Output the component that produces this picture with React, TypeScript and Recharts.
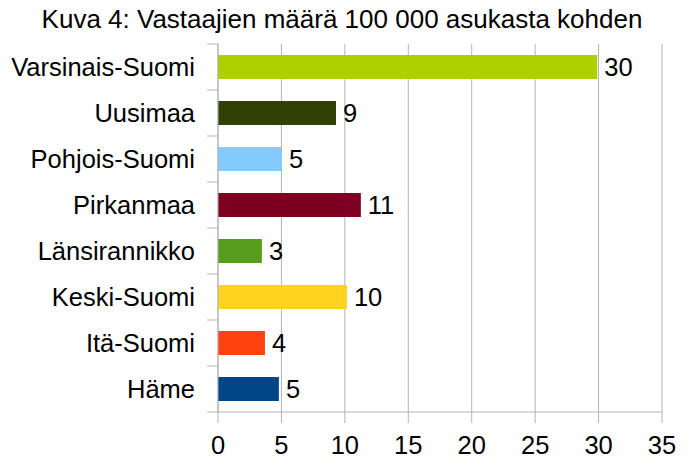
import { BarChart, Bar, XAxis, YAxis, CartesianGrid, LabelList, Cell } from 'recharts'

const regions = ['Varsinais-Suomi', 'Uusimaa', 'Pohjois-Suomi', 'Pirkanmaa', 'Länsirannikko', 'Keski-Suomi', 'Itä-Suomi', 'Häme']
const respondents = [29.9, 9.3, 5.04, 11.26, 3.46, 10.16, 3.7, 4.8]
const barColors = ['#aecf00', '#314004', '#83caff', '#7e0021', '#579d1c', '#ffd320', '#ff420e', '#004586']
const xTicks = [0, 5, 10, 15, 20, 25, 30, 35]

const data = regions.map((name, i) => ({ name, value: respondents[i] }))

const GRID = '#b3b3b3'
const FONT = '"Liberation Sans", Arial, sans-serif'
const FS = 25.5

function RegionTick(props: any) {
  const { x, y, payload, index } = props
  const band = 46
  const top = y - band / 2
  return (
    <g>
      <line x1={x - 11} x2={x} y1={top} y2={top} stroke={GRID} strokeWidth={1} />
      {index === regions.length - 1 && (
        <line x1={x - 11} x2={x} y1={top + band} y2={top + band} stroke={GRID} strokeWidth={1} />
      )}
      <text x={x - 23} y={y} dy="0.355em" textAnchor="end" fill="#000" fontSize={FS} fontFamily={FONT}>
        {payload.value}
      </text>
    </g>
  )
}

export default function App() {
  return (
    <div style={{ position: 'absolute', left: 0, top: 0, width: 694, height: 462, background: '#fff', fontFamily: FONT }}>
      <div style={{ position: 'absolute', left: 0, top: 4, width: 684, textAlign: 'center', fontSize: 26, color: '#000', whiteSpace: 'nowrap' }}>
        Kuva 4: Vastaajien määrä 100 000 asukasta kohden
      </div>
      <BarChart
        width={694}
        height={462}
        data={data}
        layout="vertical"
        margin={{ top: 44, right: 32, left: 0, bottom: 0 }}
        barSize={24}
      >
        <CartesianGrid stroke={GRID} horizontal={false} />
        <XAxis
          type="number"
          domain={[0, 35]}
          ticks={xTicks}
          interval={0}
          height={50}
          tickSize={11}
          tickMargin={13}
          axisLine={{ stroke: GRID }}
          tickLine={{ stroke: GRID }}
          tick={{ fill: '#000', fontSize: FS, fontFamily: FONT }}
        />
        <XAxis
          xAxisId="top"
          orientation="top"
          type="number"
          domain={[0, 35]}
          height={0}
          tick={false}
          tickLine={false}
          axisLine={{ stroke: GRID }}
        />
        <YAxis
          type="category"
          dataKey="name"
          width={218}
          axisLine={{ stroke: GRID }}
          tickLine={false}
          tickSize={0}
          tickMargin={0}
          tick={<RegionTick />}
        />
        <Bar dataKey="value" isAnimationActive={false}>
          {data.map((d, i) => (
            <Cell key={d.name} fill={barColors[i]} />
          ))}
          <LabelList
            dataKey="value"
            position="right"
            offset={7}
            fill="#000"
            fontSize={FS}
            fontFamily={FONT}
            formatter={(v: any) => String(Math.round(Number(v)))}
          />
        </Bar>
      </BarChart>
    </div>
  )
}
